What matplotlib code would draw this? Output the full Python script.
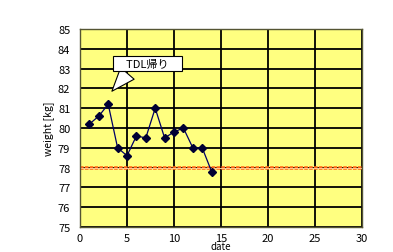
import matplotlib
matplotlib.use('Agg')
import matplotlib.pyplot as plt

plt.rcParams['font.family'] = ['Noto Sans CJK JP', 'DejaVu Sans']

# weight log
days = [1, 2, 3, 4, 5, 6, 7, 8, 9, 10, 11, 12, 13, 14]
weight = [80.2, 80.6, 81.2, 79.0, 78.6, 79.6, 79.5, 81.0, 79.5, 79.8, 80.0, 79.0, 79.0, 77.8]
goal_x = [0, 30]
goal_y = [78, 78]
xticks = [0, 5, 10, 15, 20, 25, 30]
yticks = [75, 76, 77, 78, 79, 80, 81, 82, 83, 84, 85]

fig = plt.figure(figsize=(3.93, 2.53), dpi=100)
ax = fig.add_axes([80/393, 1 - 228/253, 282/393, 198/253])
ax.set_facecolor('#ffff80')

ax.plot(goal_x, goal_y, color='#ff6a1a', lw=2.6, ls=(0, (1, 0.35)), zorder=2)
ax.plot(goal_x, goal_y, color='#ffc890', lw=0.7, zorder=2)
ax.plot(days, weight, color='#000066', lw=0.9, marker='D', ms=4.5,
        mfc='#000033', mec='#000033', zorder=3)

ax.set_xlim(0, 30)
ax.set_ylim(75, 85)
ax.set_xticks(xticks)
ax.set_yticks(yticks)
ax.grid(True, color='black', lw=1.3, zorder=1)
ax.set_axisbelow(True)
ax.tick_params(length=0, labelsize=8, pad=7)
ax.tick_params(axis='x', pad=4)
for s in ax.spines.values():
    s.set_color('#555533')
    s.set_linewidth(1.0)

ax.set_ylabel('weight [kg]', fontsize=7.5, labelpad=3)
ax.set_xlabel('date', fontsize=7, labelpad=-1)

ax.annotate('\u3000TDL帰り\u3000', xy=(3.2, 81.75), xytext=(7.2, 83.25),
            fontsize=8, ha='center', va='center',
            bbox=dict(boxstyle='square,pad=0.2', fc='white', ec='black', lw=0.8),
            arrowprops=dict(arrowstyle='wedge,tail_width=1.6', fc='white',
                            ec='black', lw=0.8, relpos=(0.25, 0.0)),
            zorder=5)

fig.savefig('out.png', dpi=100)
